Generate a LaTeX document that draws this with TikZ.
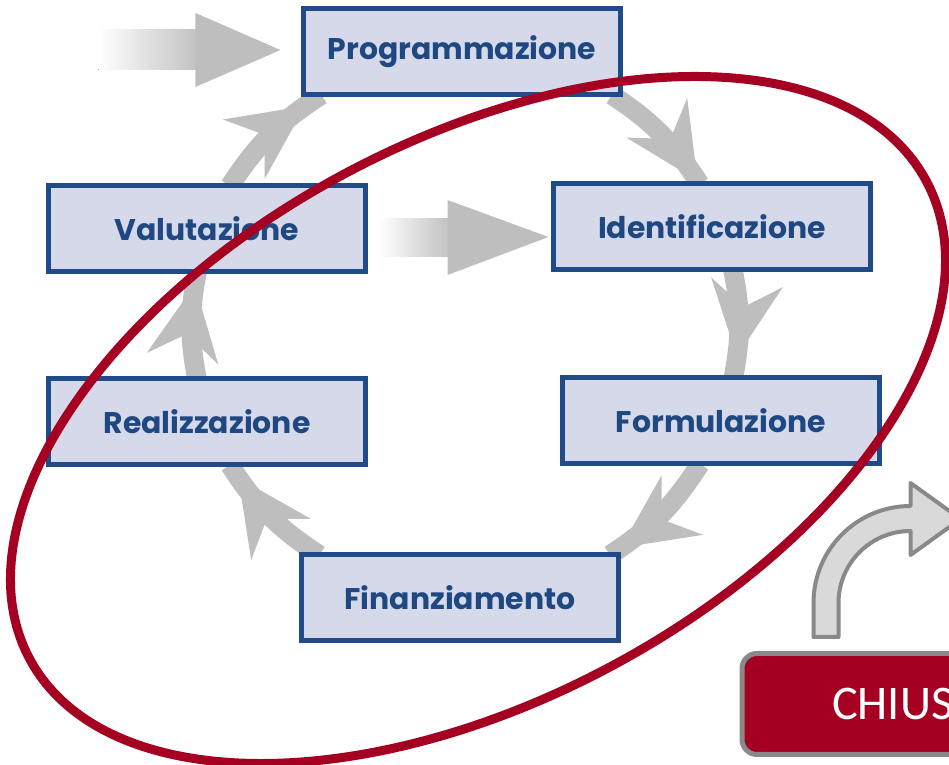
\documentclass[tikz,border=0pt]{standalone}
\usepackage{fontspec}
\newfontfamily\cyclefont{Poppins}
\newfontfamily\closefont{Carlito}
\usetikzlibrary{arrows.meta,calc,backgrounds,decorations.markings}

\definecolor{boxfill}{RGB}{213,217,234}
\definecolor{boxline}{RGB}{31,76,137}
\definecolor{boxtext}{RGB}{31,72,130}
\definecolor{arrgray}{RGB}{190,190,190}
\definecolor{ringred}{RGB}{165,0,33}
\definecolor{bentfill}{RGB}{217,217,217}
\definecolor{bentline}{RGB}{137,137,137}

\tikzset{
  phase/.style={draw=boxline, fill=boxfill, line width=1mm, minimum width=63.4mm,
    minimum height=17.2mm, inner sep=0pt, outer sep=0pt, text=boxtext,
    font=\cyclefont\bfseries\fontsize{17}{20}\selectfont},
  cyclink/.style={draw=arrgray, line width=3.9mm, postaction={decorate},
    decoration={markings, mark=at position #1 with
      {\arrow{Stealth[length=15mm,width=14.5mm,inset=5mm,line width=0pt]}}}},
  closebox/.style={rounded corners=3mm, draw=bentline, line width=1mm, fill=ringred,
    text=white, minimum height=20.2mm, inner xsep=18mm, anchor=west,
    font=\closefont\fontsize{27.5}{32}\selectfont},
  bentarrow/.style={draw=bentline, fill=bentfill, line width=0.8mm, line join=round},
  ring/.style={draw=ringred, line width=1.8mm}
}

\begin{document}
\begin{tikzpicture}[x=0.2mm,y=-0.2mm]
  \useasboundingbox (0,0) rectangle (949,765);
  \clip (0,0) rectangle (949,765);

  % phases of the cycle
  \node[phase] (prog)  at (462,52)  {Programmazione};
  \node[phase] (valu)  at (207,229) {Valutazione};
  \node[phase] (ident) at (712,227) {Identificazione};
  \node[phase] (real)  at (207,422) {Realizzazione};
  \node[phase] (form)  at (721,421) {Formulazione};
  \node[phase] (fin)   at (460,598) {Finanziamento};

  \begin{pgfonlayer}{background}
    \draw[cyclink=0.97] (prog.-16) to[bend left=12] (ident.106);
    \draw[cyclink=0.8] (ident.-64) to[bend left=11] (form.74);
    \draw[cyclink=0.9] (form.-116) to[bend left=12] (fin.16);
    \draw[cyclink=0.88] (fin.163) to[bend left=12] (real.-62);
    \draw[cyclink=0.88] (real.103) to[bend left=11] (valu.-103);
    \draw[cyclink=0.85] (valu.62) to[bend left=12] (prog.-163);
  \end{pgfonlayer}

  % faded arrows
  \fill[left color=white, right color=arrgray] ($(prog.west)+(-205,-22)$) rectangle ($(prog.west)+(-100,18)$);
  \fill[arrgray] ($(prog.west)+(-108,-39)$) -- ($(prog.west)+(-23,-2)$) -- ($(prog.west)+(-108,35)$) -- cycle;
  \fill[left color=white, right color=arrgray] ($(valu.east)+(13,-10)$) rectangle ($(ident.west)+(-100,30)$);
  \fill[arrgray] ($(ident.west)+(-106,-27)$) -- ($(ident.west)+(-5,10)$) -- ($(ident.west)+(-106,48)$) -- cycle;

  % closing phase
  \node[closebox] (chiu) at (739.5,704) {CHIUSURA};
  \coordinate (bendfoot) at ($(chiu.north west)+(74,-14)$);
  \draw[bentarrow] (bendfoot) -- ++(0,-34) arc[start angle=180, end angle=270, radius=97]
    -- ++(0,-23) -- ++(50,36) -- ++(-50,36) -- ++(0,-24)
    arc[start angle=270, end angle=180, radius=72] -- ++(0,34) -- cycle;

  \draw[ring, rotate around={28:(478,420)}] (478,420) ellipse[x radius=101.6mm, y radius=56mm];
\end{tikzpicture}
\end{document}
